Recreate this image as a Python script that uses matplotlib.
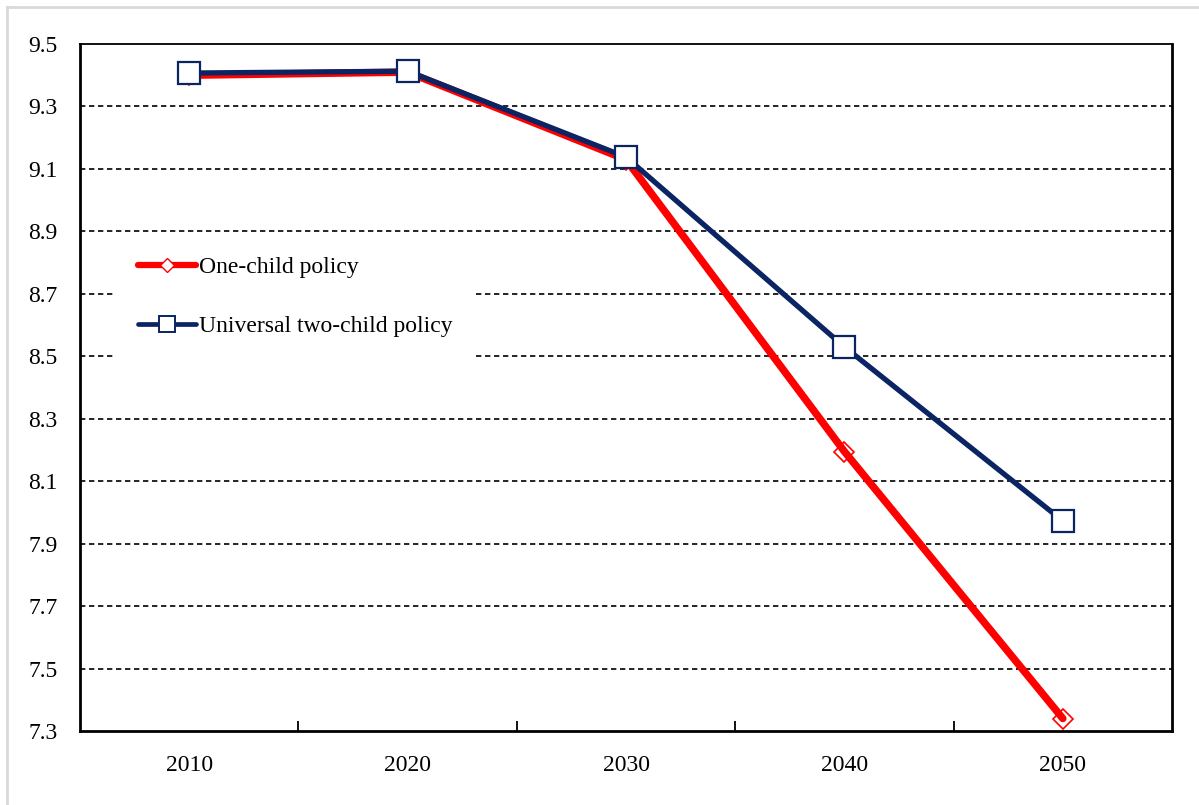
import matplotlib
matplotlib.use('Agg')
import matplotlib.pyplot as plt
from matplotlib.lines import Line2D
from matplotlib.patches import Rectangle
import numpy as np

years = ['2010', '2020', '2030', '2040', '2050']
one_child = [9.40, 9.41, 9.13, 8.195, 7.34]
two_child = [9.407, 9.413, 9.138, 8.53, 7.973]
y_ticks = [7.3, 7.5, 7.7, 7.9, 8.1, 8.3, 8.5, 8.7, 8.9, 9.1, 9.3, 9.5]

RED = '#FF0000'
NAVY = '#0B2463'

plt.rcParams['font.family'] = ['Liberation Serif', 'DejaVu Serif']
plt.rcParams['font.size'] = 17


def main():
    fig = plt.figure(figsize=(11.99, 8.05), dpi=100)
    ax = fig.add_axes([80 / 1199, 1 - 731 / 805, 1092 / 1199, 687 / 805])

    x = np.arange(len(years))

    # red line drawn over its own markers, like the original
    ax.plot(x, one_child, color=RED, lw=5.4, solid_capstyle='round',
            solid_joinstyle='round', zorder=4)
    ax.plot(x, one_child, ls='none', marker='D', ms=10, mfc='white',
            mec=RED, mew=1.2, zorder=3)
    ax.plot(x, two_child, color=NAVY, lw=3.8, solid_capstyle='round',
            solid_joinstyle='round', marker='s', ms=16, mfc='white',
            mec=NAVY, mew=1.6, zorder=5)

    ax.set_xlim(-0.5, len(years) - 0.5)
    ax.set_ylim(7.3, 9.5)
    ax.set_xticks(x)
    ax.set_xticklabels(years)
    ax.set_xticks(x[:-1] + 0.5, minor=True)
    ax.tick_params(axis='x', which='major', length=0, pad=17)
    ax.tick_params(axis='x', which='minor', direction='in', length=7, width=1.3)
    ax.set_yticks(y_ticks)
    ax.set_yticklabels(['%.1f' % v for v in y_ticks])
    ax.tick_params(axis='y', length=0, pad=16)

    for v in y_ticks[1:-1]:
        ax.axhline(v, color='black', lw=1.2, ls=(0, (3.2, 2.2)), zorder=1)

    for side in ['left', 'bottom', 'right']:
        ax.spines[side].set_linewidth(2)
    ax.spines['top'].set_linewidth(1.3)

    # white box behind the legend, hiding the gridlines
    ax.add_patch(Rectangle((0.031, 0.50), 0.331, 0.222, transform=ax.transAxes,
                           facecolor='white', edgecolor='none', zorder=2))

    handles = [
        Line2D([], [], color=RED, lw=4.5, solid_capstyle='round', marker='D',
               ms=7, mfc='white', mec=RED, mew=1),
        Line2D([], [], color=NAVY, lw=3.4, solid_capstyle='round', marker='s',
               ms=11, mfc='white', mec=NAVY, mew=1.4),
    ]
    leg = ax.legend(handles, ['One-child policy', 'Universal two-child policy'],
                    loc='center left', bbox_to_anchor=(0.053, 0.632),
                    frameon=False, borderpad=0, borderaxespad=0,
                    handlelength=2.45, handletextpad=0.15, labelspacing=1.6,
                    fontsize=17)
    leg.set_zorder(6)

    # light grey frame lines of the chart area
    fig.add_artist(Line2D([7 / 1199, 1], [1 - 7 / 805, 1 - 7 / 805],
                          color='#D9D9D9', lw=2, transform=fig.transFigure))
    fig.add_artist(Line2D([7 / 1199, 7 / 1199], [0, 1 - 7 / 805],
                          color='#D9D9D9', lw=2, transform=fig.transFigure))

    fig.savefig('out.png', dpi=100)


if __name__ == '__main__':
    main()
